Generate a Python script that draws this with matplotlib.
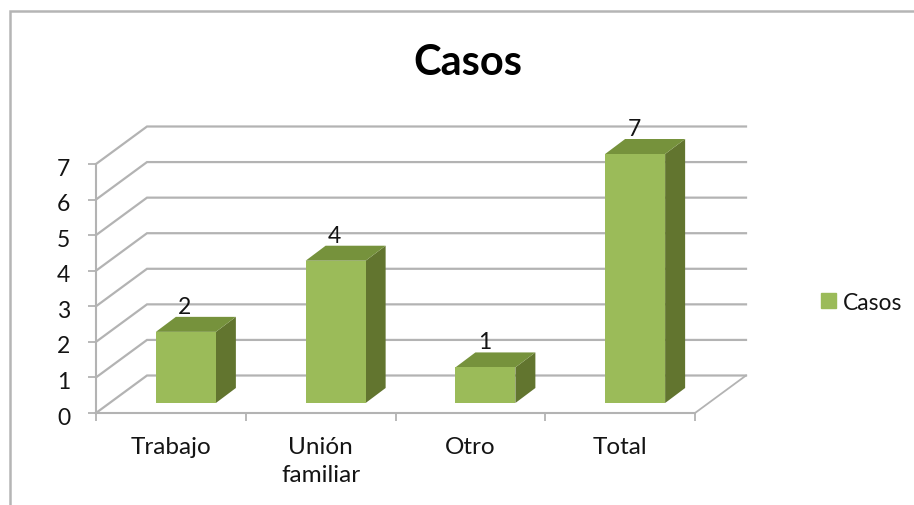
import matplotlib
matplotlib.use("Agg")
import matplotlib.pyplot as plt
from matplotlib.lines import Line2D
from matplotlib.patches import Patch
from matplotlib.transforms import ScaledTranslation

categories = ["Trabajo", "Unión\nfamiliar", "Otro", "Total"]
values = [2, 4, 1, 7]
series_name = "Casos"
y_ticks = [0, 1, 2, 3, 4, 5, 6, 7]

W, H = 914, 506
FONT = "Lato"
GRID = "#b3b3b3"
FRONT, TOP, SIDE = "#9bbb59", "#76923c", "#62752f"
TEXT = "#141414"

fig = plt.figure(figsize=(W / 100, H / 100), dpi=100, facecolor="white")
L, R, B, T = 96, 695, 414, 165
ax = fig.add_axes([L / W, 1 - B / H, (R - L) / W, (B - T) / H])
ax.set_xlim(-0.5, 3.5)
ax.set_ylim(0, 7)
ax.patch.set_visible(False)

px_x = 4 / (R - L)
px_y = 7 / (B - T)
wall_dx, wall_dy = 51 * px_x, 37.5 * px_y
shift_x, shift_y = 15 * px_x, 10 * px_y
bar_w = 60 * px_x
depth_x, depth_y = 20 * px_x, 15 * px_y

# Walls and gridlines
for v in y_ticks:
    ax.plot([-0.5, -0.5 + wall_dx, 3.5 + wall_dx], [v, v + wall_dy, v + wall_dy],
            color=GRID, lw=1.6, clip_on=False, zorder=1, solid_joinstyle="miter")
ax.plot([3.5, 3.5 + wall_dx], [0, wall_dy], color=GRID, lw=1.3, clip_on=False, zorder=1)

# Bars
for i, v in enumerate(values):
    x0 = i + shift_x - bar_w / 2
    x1 = x0 + bar_w
    y0, y1 = shift_y, v + shift_y
    ax.fill([x1, x1 + depth_x, x1 + depth_x, x1],
            [y0, y0 + depth_y, y1 + depth_y, y1], color=SIDE, lw=0, clip_on=False, zorder=3)
    ax.fill([x0, x1, x1 + depth_x, x0 + depth_x],
            [y1, y1, y1 + depth_y, y1 + depth_y], color=TOP, lw=0, clip_on=False, zorder=3)
    ax.bar(x0, v, width=bar_w, bottom=y0, align="edge", color=FRONT, lw=0, clip_on=False, zorder=4)
    ax.annotate(str(v), (x0 + bar_w / 2 - 1 * px_x, y1), xytext=(0, 18.5), textcoords="offset points",
                ha="center", va="center", fontsize=16.5, family=FONT, color=TEXT,
                annotation_clip=False, zorder=5)

# Axes
for s in ("top", "right"):
    ax.spines[s].set_visible(False)
for s in ("left", "bottom"):
    ax.spines[s].set_color(GRID)
    ax.spines[s].set_linewidth(1.5)
ax.set_yticks(y_ticks)
ax.set_xticks(range(len(categories)))
ax.set_xticklabels(categories, linespacing=1.42)
ax.set_xticks([-0.5, 0.5, 1.5, 2.5, 3.5], minor=True)
ax.tick_params(axis="x", which="major", length=0, pad=16.5)
ax.tick_params(axis="x", which="minor", length=6, width=1.3, color=GRID)
ax.tick_params(axis="y", length=6, width=1.3, color=GRID, pad=12.5)
for t in ax.get_xticklabels():
    t.set_fontfamily(FONT)
    t.set_fontsize(17.5)
    t.set_color(TEXT)
y_nudge = ScaledTranslation(0, -1.5 / 72, fig.dpi_scale_trans)
for t in ax.get_yticklabels():
    t.set_fontfamily(FONT)
    t.set_fontsize(16.5)
    t.set_color(TEXT)
    t.set_transform(t.get_transform() + y_nudge)

# Title
fig.text(468 / W, 1 - 63 / H, series_name, ha="center", va="center",
         fontsize=30, fontweight="bold", family=FONT, color="black")

# Legend
ax.legend(handles=[Patch(color=FRONT, label=series_name)], frameon=False,
          loc="center left", bbox_to_anchor=(814 / W, 1 - 303 / H),
          bbox_transform=fig.transFigure, prop={"family": FONT, "size": 16.5},
          labelcolor=TEXT, handlelength=0.66, handleheight=0.66, handletextpad=0.3,
          borderaxespad=0, borderpad=0.3)

# Chart frame
fig.add_artist(Line2D([10 / W, 10 / W, 1], [0, 1 - 12 / H, 1 - 12 / H],
                      color="#b5b5b5", lw=1.8, solid_joinstyle="miter"))

fig.savefig("out.png", dpi=100, facecolor="white")
